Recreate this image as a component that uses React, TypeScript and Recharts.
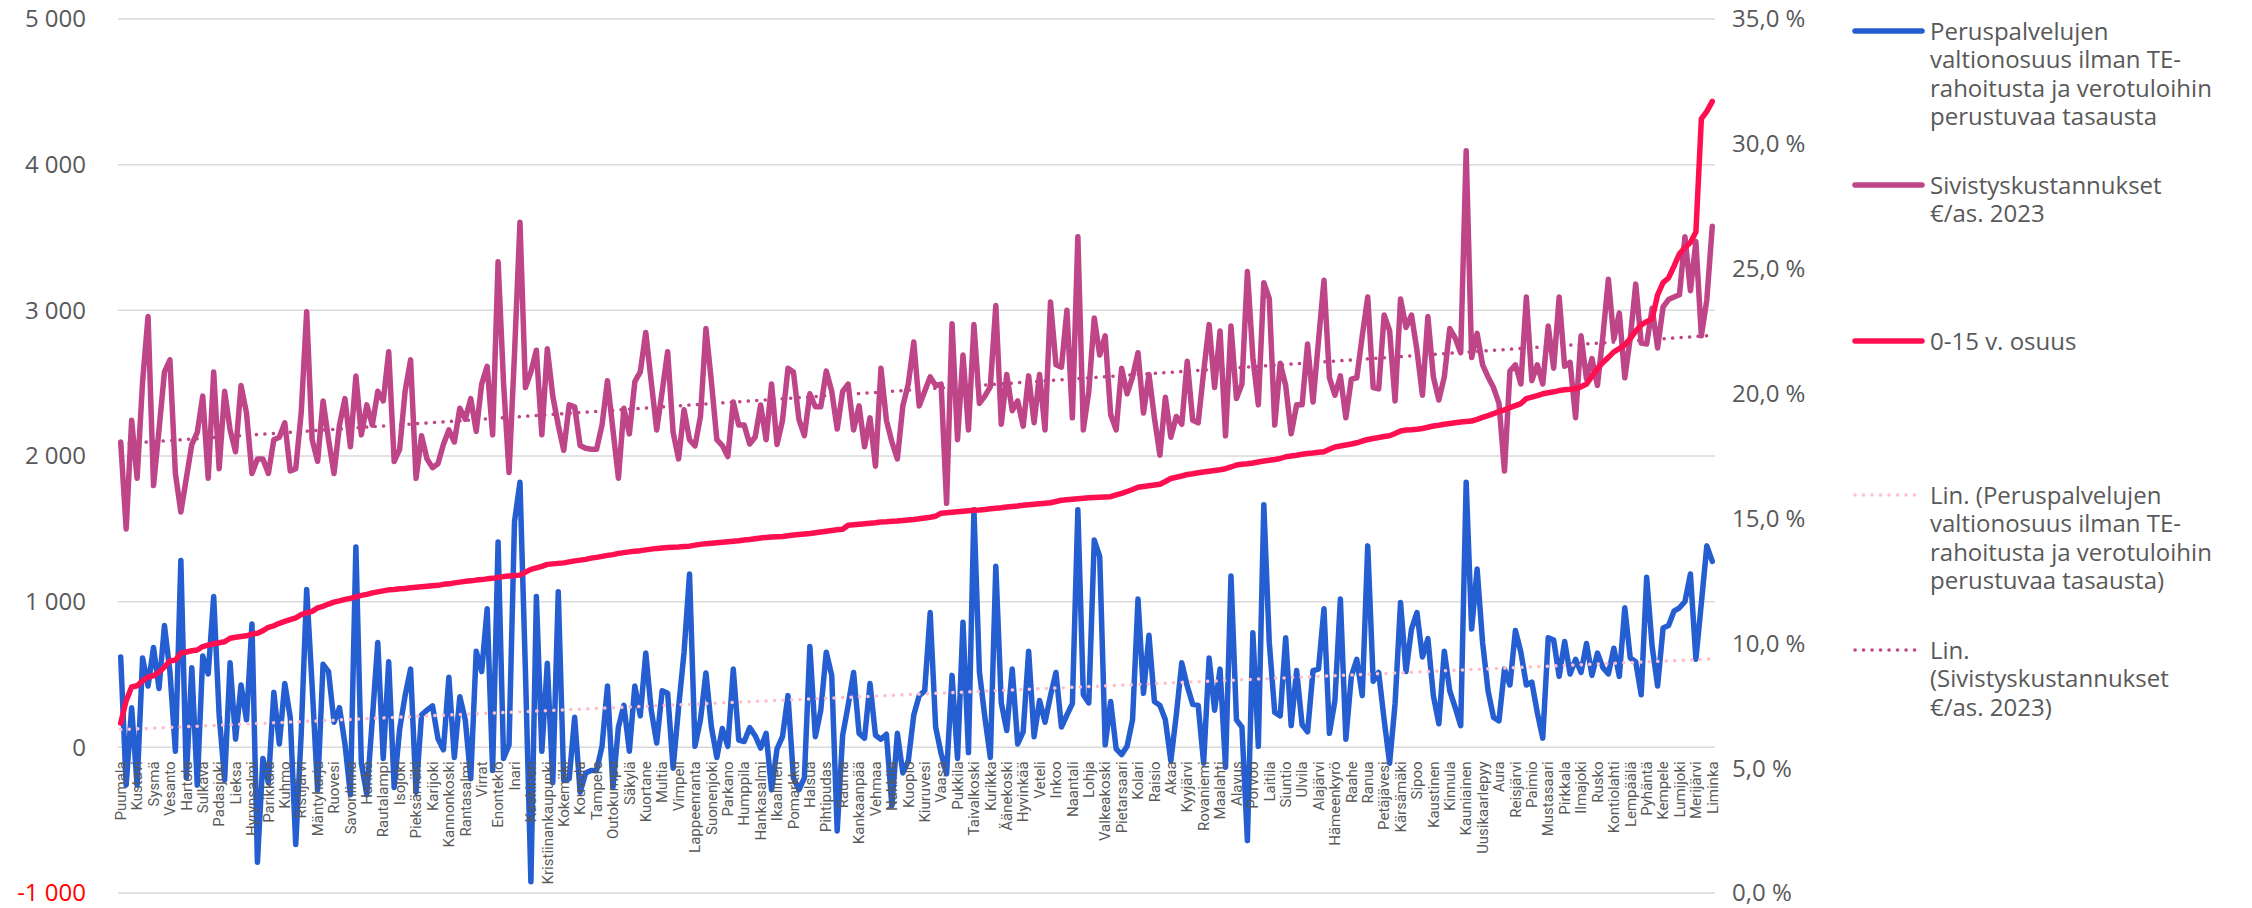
import { LineChart, Line, XAxis, YAxis, CartesianGrid } from 'recharts';

// every third municipality is labelled on the category axis (index 0, 3, 6 ... 291)
const MUNICIPALITY_LABELS = [
  'Puumala', 'Kustavi', 'Sysmä', 'Vesanto', 'Hartola', 'Sulkava', 'Padasjoki', 'Lieksa', 'Hyrynsalmi', 'Parikkala',
  'Kuhmo', 'Ristijärvi', 'Mäntyharju', 'Ruovesi', 'Savonlinna', 'Hanko', 'Rautalampi', 'Isojoki', 'Pieksämäki', 'Karijoki',
  'Kannonkoski', 'Rantasalmi', 'Virrat', 'Enontekiö', 'Inari', 'Kaskinen', 'Kristiinankaupunki', 'Kokemäki', 'Kouvola', 'Tampere',
  'Outokumpu', 'Säkylä', 'Kuortane', 'Multia', 'Vimpeli', 'Lappeenranta', 'Suonenjoki', 'Parkano', 'Humppila', 'Hankasalmi',
  'Ikaalinen', 'Pomarkku', 'Halsua', 'Pihtipudas', 'Rauma', 'Kankaanpää', 'Vehmaa', 'Nakkila', 'Kuopio', 'Kiuruvesi',
  'Vaasa', 'Pukkila', 'Taivalkoski', 'Kurikka', 'Äänekoski', 'Hyvinkää', 'Veteli', 'Inkoo', 'Naantali', 'Lohja',
  'Valkeakoski', 'Pietarsaari', 'Kolari', 'Raisio', 'Akaa', 'Kyyjärvi', 'Rovaniemi', 'Maalahti', 'Alavus', 'Porvoo',
  'Laitila', 'Siuntio', 'Ulvila', 'Alajärvi', 'Hämeenkyrö', 'Raahe', 'Ranua', 'Petäjävesi', 'Kärsämäki', 'Sipoo',
  'Kaustinen', 'Kinnula', 'Kauniainen', 'Uusikaarlepyy', 'Aura', 'Reisjärvi', 'Paimio', 'Mustasaari', 'Pirkkala', 'Ilmajoki',
  'Rusko', 'Kontiolahti', 'Lempäälä', 'Pyhäntä', 'Kempele', 'Lumijoki', 'Merijärvi', 'Liminka',
];

// Peruspalvelujen valtionosuus ilman TE-rahoitusta ja verotuloihin perustuvaa tasausta (€/as.)
const STATE_AID = [
  620, -259, 272, -259, 613, 421, 686, 404, 836, 520,
  -27, 1283, -209, 547, -259, 627, 504, 1035, 222, -225,
  580, 56, 428, 189, 846, -789, -76, -242, 378, 23,
  438, 205, -667, 90, 1084, 421, -292, 570, 520, 172,
  272, 23, -325, 1376, -109, -325, 189, 720, -76, 587,
  -275, 123, 355, 537, -308, 222, 255, 285, 60, -17,
  481, -70, 348, 189, -216, 660, 520, 952, -159, 1409,
  -76, 17, 1549, 1820, 520, -922, 1035, -27, 577, -242,
  1068, -225, -216, 206, -308, -176, -159, -159, 7, 421,
  -275, 139, 288, -27, 421, 216, 647, 255, 30, 388,
  371, -143, 272, 653, 1190, 7, 189, 511, 139, -70,
  129, 7, 537, 50, 40, 135, 80, -5, 96, -292,
  -10, 73, 355, -209, -292, -209, 693, 73, 255, 653,
  494, -574, 83, 288, 514, 96, 63, 438, 83, 56,
  90, -401, 96, -176, -93, 222, 355, 388, 925, 139,
  -43, -182, 494, -76, 859, -36, 1631, 520, 206, -70,
  1243, 305, 116, 537, 23, 106, 660, 73, 322, 172,
  355, 514, 139, 222, 300, 1631, 361, 305, 1423, 1310,
  17, 315, -10, -50, 7, 189, 1018, 371, 769, 315,
  288, 189, -93, 222, 580, 421, 295, 288, -109, 613,
  255, 537, -136, 1177, 189, 139, -640, 786, 7, 1665,
  720, 239, 216, 753, 149, 527, 156, 106, 527, 537,
  952, 96, 322, 1018, 56, 487, 604, 355, 1383, 454,
  514, 189, -109, 300, 995, 520, 812, 925, 620, 746,
  355, 162, 660, 388, 272, 149, 1820, 812, 1224, 720,
  388, 206, 182, 537, 428, 802, 653, 428, 448, 239,
  63, 753, 736, 487, 726, 504, 604, 514, 713, 494,
  647, 547, 504, 680, 487, 958, 613, 587, 361, 1167,
  693, 421, 819, 836, 935, 958, 1001, 1190, 604, 991,
  1383, 1277,
];

// Sivistyskustannukset €/as. 2023
const EDUCATION_COSTS = [
  2096, 1499, 2245, 1847, 2510, 2958, 1797, 2179, 2577, 2660,
  1880, 1615, 1847, 2079, 2162, 2411, 1847, 2577, 1913, 2444,
  2179, 2029, 2484, 2295, 1880, 1980, 1980, 1880, 2112, 2129,
  2228, 1897, 1913, 2295, 2991, 2112, 1963, 2378, 2112, 1880,
  2212, 2394, 2063, 2550, 2145, 2351, 2212, 2444, 2378, 2716,
  1963, 2046, 2444, 2660, 1847, 2139, 1980, 1920, 1947, 2079,
  2179, 2096, 2328, 2252, 2394, 2169, 2494, 2616, 2145, 3333,
  2500, 1887, 2700, 3605, 2470, 2577, 2726, 2145, 2736, 2411,
  2212, 2039, 2351, 2338, 2072, 2053, 2046, 2046, 2212, 2517,
  2179, 1847, 2328, 2152, 2510, 2577, 2848, 2510, 2179, 2444,
  2716, 2162, 1980, 2318, 2112, 2069, 2271, 2875, 2510, 2112,
  2072, 1996, 2371, 2212, 2212, 2082, 2130, 2350, 2112, 2494,
  2079, 2245, 2603, 2577, 2252, 2139, 2427, 2338, 2338, 2583,
  2444, 2185, 2444, 2494, 2179, 2344, 2063, 2262, 1930, 2603,
  2245, 2096, 1980, 2344, 2494, 2782, 2344, 2444, 2543, 2484,
  2494, 1675, 2908, 2112, 2693, 2179, 2902, 2361, 2411, 2477,
  3034, 2218, 2560, 2311, 2378, 2205, 2550, 2228, 2560, 2179,
  3057, 2626, 2610, 3001, 2262, 3505, 2179, 2444, 2948, 2693,
  2825, 2285, 2179, 2603, 2427, 2543, 2709, 2295, 2560, 2262,
  2006, 2404, 2129, 2271, 2218, 2650, 2245, 2228, 2577, 2902,
  2470, 2858, 2139, 2892, 2394, 2494, 3266, 2676, 2351, 3190,
  3081, 2212, 2636, 2484, 2152, 2351, 2351, 2769, 2371, 2792,
  3207, 2537, 2417, 2550, 2262, 2527, 2537, 2825, 3091, 2470,
  2461, 2968, 2860, 2378, 3078, 2882, 2968, 2726, 2417, 2958,
  2543, 2384, 2543, 2875, 2809, 2709, 4095, 2676, 2842, 2626,
  2543, 2470, 2361, 1897, 2583, 2626, 2494, 3091, 2517, 2626,
  2494, 2892, 2603, 3091, 2616, 2643, 2262, 2825, 2527, 2669,
  2484, 2825, 3213, 2802, 2981, 2537, 2809, 3180, 2775, 2769,
  3014, 2742, 3024, 3074, 3091, 3107, 3505, 3134, 3472, 2825,
  3074, 3578,
];

// 0-15 v. osuus (%), sorted ascending
const CHILD_SHARE = [
  6.8, 7.7, 8.25, 8.3, 8.5, 8.65, 8.7, 8.85, 9.05, 9.3,
  9.32, 9.6, 9.65, 9.7, 9.73, 9.87, 9.93, 9.98, 10.02, 10.06,
  10.2, 10.24, 10.27, 10.3, 10.37, 10.4, 10.5, 10.64, 10.7, 10.8,
  10.88, 10.95, 11.02, 11.15, 11.22, 11.28, 11.42, 11.48, 11.57, 11.65,
  11.7, 11.76, 11.8, 11.86, 11.92, 11.96, 12.02, 12.06, 12.1, 12.14,
  12.15, 12.18, 12.19, 12.22, 12.24, 12.26, 12.28, 12.3, 12.32, 12.36,
  12.38, 12.42, 12.45, 12.48, 12.5, 12.53, 12.55, 12.58, 12.6, 12.64,
  12.67, 12.69, 12.71, 12.73, 12.85, 12.96, 13.02, 13.08, 13.16, 13.18,
  13.2, 13.22, 13.26, 13.3, 13.33, 13.36, 13.41, 13.44, 13.48, 13.52,
  13.55, 13.6, 13.63, 13.66, 13.69, 13.71, 13.74, 13.77, 13.8, 13.82,
  13.84, 13.85, 13.86, 13.88, 13.89, 13.93, 13.96, 13.99, 14.01, 14.03,
  14.05, 14.07, 14.09, 14.11, 14.14, 14.16, 14.19, 14.22, 14.24, 14.26,
  14.27, 14.28, 14.31, 14.34, 14.36, 14.38, 14.4, 14.43, 14.46, 14.49,
  14.52, 14.55, 14.57, 14.73, 14.75, 14.77, 14.79, 14.81, 14.83, 14.86,
  14.87, 14.89, 14.9, 14.92, 14.94, 14.96, 14.99, 15.02, 15.05, 15.09,
  15.21, 15.23, 15.25, 15.27, 15.29, 15.31, 15.33, 15.34, 15.36, 15.39,
  15.41, 15.43, 15.46, 15.48, 15.5, 15.53, 15.55, 15.57, 15.59, 15.61,
  15.63, 15.68, 15.73, 15.75, 15.77, 15.79, 15.81, 15.83, 15.84, 15.85,
  15.86, 15.87, 15.94, 16.0, 16.08, 16.16, 16.25, 16.28, 16.31, 16.34,
  16.37, 16.48, 16.6, 16.65, 16.7, 16.76, 16.79, 16.83, 16.86, 16.89,
  16.92, 16.95, 16.99, 17.06, 17.14, 17.17, 17.19, 17.22, 17.26, 17.3,
  17.33, 17.36, 17.4, 17.47, 17.5, 17.53, 17.57, 17.6, 17.62, 17.65,
  17.67, 17.77, 17.86, 17.9, 17.94, 17.98, 18.03, 18.1, 18.16, 18.2,
  18.24, 18.28, 18.31, 18.4, 18.5, 18.54, 18.55, 18.57, 18.6, 18.65,
  18.7, 18.73, 18.77, 18.8, 18.83, 18.86, 18.88, 18.9, 18.97, 19.05,
  19.12, 19.2, 19.28, 19.35, 19.44, 19.52, 19.6, 19.8, 19.86, 19.92,
  19.99, 20.03, 20.07, 20.12, 20.15, 20.17, 20.2, 20.27, 20.38, 20.7,
  21.0, 21.25, 21.45, 21.67, 21.8, 21.95, 22.2, 22.5, 22.75, 22.88,
  22.99, 23.95, 24.44, 24.63, 25.1, 25.6, 25.85, 26.05, 26.47, 31.0,
  31.3, 31.7,
];

const LEFT_TICKS = [-1000, 0, 1000, 2000, 3000, 4000, 5000];
const RIGHT_TICKS = [0, 5, 10, 15, 20, 25, 30, 35];

const BLUE = '#255ED0';
const PURPLE = '#BD4588';
const RED = '#FF0F50';
const PINK = '#FFC0CD';
const GREY = '#595959';
const FONT = '"Open Sans", "Noto Sans", sans-serif';

const WIDTH = 2252;
const HEIGHT = 908;
const MARGIN = { top: 19, right: 417, bottom: 0, left: 0 };
const X_AXIS_H = 15;
const PLOT_H = HEIGHT - MARGIN.top - MARGIN.bottom - X_AXIS_H;
const ZERO_Y = MARGIN.top + (PLOT_H * 5000) / 6000;

// Excel-style linear trend line: least squares over the category index
function linearTrend(values: number[]): number[] {
  const n = values.length;
  let sx = 0, sy = 0, sxx = 0, sxy = 0;
  values.forEach((v, i) => {
    sx += i;
    sy += v;
    sxx += i * i;
    sxy += i * v;
  });
  const slope = (n * sxy - sx * sy) / (n * sxx - sx * sx);
  const intercept = (sy - slope * sx) / n;
  return values.map((_, i) => intercept + slope * i);
}

const aidTrend = linearTrend(STATE_AID);
const costTrend = linearTrend(EDUCATION_COSTS);

const chartData = STATE_AID.map((aid, i) => ({
  idx: i,
  aid,
  cost: EDUCATION_COSTS[i],
  share: CHILD_SHARE[i],
  aidTrend: aidTrend[i],
  costTrend: costTrend[i],
}));

function formatThousands(v: number): string {
  const s = Math.abs(v).toString().replace(/\B(?=(\d{3})+(?!\d))/g, '\u00a0');
  return v < 0 ? `-${s}` : s;
}

function LeftTick({ x, y, payload }: any) {
  return (
    <text x={x} y={y} dy="0.35em" textAnchor="end" fontSize={24} fontFamily={FONT}
      fill={payload.value < 0 ? '#FF0000' : GREY}>
      {formatThousands(payload.value)}
    </text>
  );
}

function RightTick({ x, y, payload }: any) {
  return (
    <text x={x} y={y} dy="0.35em" textAnchor="start" fontSize={24} fontFamily={FONT} fill={GREY}>
      {`${payload.value.toFixed(1).replace('.', ',')} %`}
    </text>
  );
}

function CategoryTick({ x, payload }: any) {
  const label = MUNICIPALITY_LABELS[Math.round(payload.value / 3)] ?? '';
  const y = ZERO_Y + 14;
  return (
    <text x={x} y={y} dy="0.35em" transform={`rotate(-90 ${x} ${y})`} textAnchor="end"
      fontSize={15} fontFamily="Roboto, sans-serif" fill={GREY}>
      {label}
    </text>
  );
}

type LegendItem = { lines: string[]; color: string; dotted: boolean; y: number };

const LEGEND: LegendItem[] = [
  { lines: ['Peruspalvelujen', 'valtionosuus ilman TE-', 'rahoitusta ja verotuloihin', 'perustuvaa tasausta'], color: BLUE, dotted: false, y: 31 },
  { lines: ['Sivistyskustannukset', '€/as. 2023'], color: PURPLE, dotted: false, y: 185 },
  { lines: ['0-15 v. osuus'], color: RED, dotted: false, y: 341 },
  { lines: ['Lin. (Peruspalvelujen', 'valtionosuus ilman TE-', 'rahoitusta ja verotuloihin', 'perustuvaa tasausta)'], color: PINK, dotted: true, y: 495 },
  { lines: ['Lin.', '(Sivistyskustannukset', '€/as. 2023)'], color: PURPLE, dotted: true, y: 650 },
];

const LINE_H = 28.4;

function Legend() {
  return (
    <>
      {LEGEND.map((item, k) => (
        <div key={k}>
          <svg width={80} height={12} style={{ position: 'absolute', left: 1850, top: item.y - 6 }}>
            <line x1={5} x2={72} y1={6} y2={6} stroke={item.color}
              strokeWidth={item.dotted ? 3.5 : 5.5} strokeLinecap="round"
              strokeDasharray={item.dotted ? '0.1 8.4' : undefined} />
          </svg>
          <div style={{
            position: 'absolute', left: 1930, top: item.y - LINE_H / 2, fontFamily: FONT,
            fontSize: 24, lineHeight: `${LINE_H}px`, color: GREY, whiteSpace: 'nowrap',
          }}>
            {item.lines.map((l, j) => <div key={j}>{l}</div>)}
          </div>
        </div>
      ))}
    </>
  );
}

export default function App() {
  return (
    <div style={{ position: 'relative', width: WIDTH, height: HEIGHT, background: '#fff' }}>
      <style>{'body{margin:0}'}</style>
      <LineChart width={WIDTH} height={HEIGHT} data={chartData} margin={MARGIN}>
        <CartesianGrid yAxisId="left" vertical={false} stroke="#D9D9D9" strokeWidth={1.5} />
        <XAxis dataKey="idx" type="category" interval={2} height={X_AXIS_H}
          axisLine={false} tickLine={false} tick={<CategoryTick />}
          padding={{ left: 2.7, right: 2.7 }} />
        <YAxis yAxisId="left" domain={[-1000, 5000]} ticks={LEFT_TICKS} width={118}
          axisLine={false} tickLine={false} tickSize={0} tickMargin={32} tick={<LeftTick />} />
        <YAxis yAxisId="right" orientation="right" domain={[0, 35]} ticks={RIGHT_TICKS} width={120}
          axisLine={false} tickLine={false} tickSize={0} tickMargin={17} tick={<RightTick />} />
        <Line yAxisId="left" dataKey="aid" stroke={BLUE} strokeWidth={5.5} dot={false}
          strokeLinejoin="round" strokeLinecap="round" isAnimationActive={false} />
        <Line yAxisId="left" dataKey="aidTrend" stroke={PINK} strokeWidth={3.5} dot={false}
          strokeDasharray="0.1 8.4" strokeLinecap="round" isAnimationActive={false} />
        <Line yAxisId="left" dataKey="cost" stroke={PURPLE} strokeWidth={5.5} dot={false}
          strokeLinejoin="round" strokeLinecap="round" isAnimationActive={false} />
        <Line yAxisId="left" dataKey="costTrend" stroke={PURPLE} strokeWidth={3.5} dot={false}
          strokeDasharray="0.1 8.4" strokeLinecap="round" isAnimationActive={false} />
        <Line yAxisId="right" dataKey="share" stroke={RED} strokeWidth={5.5} dot={false}
          strokeLinejoin="round" strokeLinecap="round" isAnimationActive={false} />
      </LineChart>
      <Legend />
    </div>
  );
}
